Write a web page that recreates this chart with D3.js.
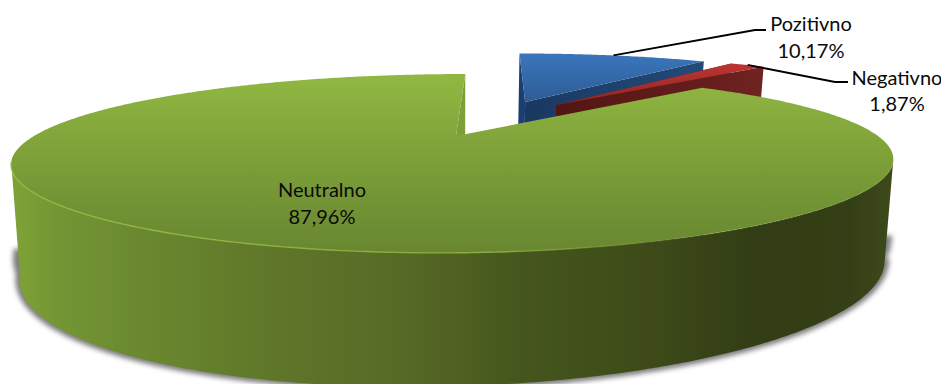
<!DOCTYPE html>
<html>
<head>
<meta charset="utf-8">
<script src="https://cdn.jsdelivr.net/npm/d3@7/dist/d3.min.js"></script>
<style>
html,body{margin:0;padding:0;background:#fff;overflow:hidden}
text{font-family:Lato,"Open Sans",sans-serif;font-size:20px;fill:#0a0a0a}
</style>
</head>
<body>
<svg id="chart" width="941" height="384"></svg>
<script>
// Share of sentiment, in percent
const categories = ["Pozitivno", "Negativno", "Neutralno"];
const shares = [10.17, 1.87, 87.96];
const shareLabels = ["10,17%", "1,87%", "87,96%"];

// Perspective camera for the tilted disc: disc coordinates u (right), v (back)
const cam = {px:456, py:136, R:422, Rk:81, pX:0.29, pY:0.307, skew:12,
             depth:101, pD:0.245, qD:0.058, taper:0.98};
// Explosion offset of each slice, in disc units
const explode = [[0.173,0.482],[0.255,0.434],[0,0]];

const top3 = (u,v)=>{
  const fx = 1/(1+cam.pX*v), fy = 1/(1+cam.pY*v);
  return [cam.px + fx*(cam.R*u + cam.skew*v), cam.py - cam.Rk*v*fy];
};
const base3 = (u,v)=>{
  const [x,y] = top3(u,v);
  return [cam.px + (x-cam.px)*cam.taper, y + cam.depth/(1+cam.pD*v+cam.qD*u)];
};
const onRim = (i,a,f=top3)=>f(explode[i][0]+Math.sin(a), explode[i][1]+Math.cos(a));
const apex = (i,f=top3)=>f(explode[i][0], explode[i][1]);
const sweep = (a0,a1)=>{
  const n = Math.max(2, Math.ceil(Math.abs(a1-a0)/0.01));
  return d3.range(n+1).map(k=>a0+(a1-a0)*k/n);
};

const slices = d3.pie().sort(null).value(d=>d).startAngle(0).endAngle(2*Math.PI)(shares);
const line = d3.line();
const closed = pts=>line(pts)+"Z";

const svg = d3.select("#chart");
const defs = svg.append("defs");

function gradient(id,[x1,y1,x2,y2],stops){
  const g = defs.append("linearGradient").attr("id",id).attr("gradientUnits","userSpaceOnUse")
    .attr("x1",x1).attr("y1",y1).attr("x2",x2).attr("y2",y2);
  stops.forEach(([o,c,a])=>g.append("stop").attr("offset",o).attr("stop-color",c).attr("stop-opacity",a===undefined?1:a));
}
gradient("blueTop",[0,53,0,105],[[0,"#3b76bd"],[1,"#2c5a92"]]);
gradient("blueWall",[520,0,705,0],[[0,"#1a3860"],[1,"#234a79"]]);
gradient("redTop",[0,62,0,106],[[0,"#be3633"],[1,"#8d2523"]]);
gradient("redWall",[556,0,762,0],[[0,"#521614"],[0.6,"#621c1b"],[1,"#6f2322"]]);
gradient("greenTop",[0,74,0,255],[[0,"#91b842"],[0.35,"#82a63b"],[0.7,"#739435"],[1,"#688630"]]);
gradient("greenWall",[12,0,894,0],[
  [0,"#7fa238"],[0.05,"#749634"],[0.16,"#69872f"],[0.3,"#5f7629"],[0.42,"#586c26"],
  [0.5,"#506122"],[0.58,"#45561d"],[0.72,"#3e4b19"],[0.84,"#323d15"],[0.95,"#343f16"],[1,"#3e4a1b"]]);
gradient("greenEdge",[12,0,894,0],[[0,"#93ba44",0.9],[0.55,"#8db33f",0.9],[0.72,"#86a93c",0.25],[1,"#86a93c",0.1]]);

const soft = defs.append("filter").attr("id","shadowBlur")
  .attr("x","-5%").attr("y","-10%").attr("width","110%").attr("height","120%");
soft.append("feGaussianBlur").attr("stdDeviation",2.4);

// Slices in back-to-front order, each with the walls that face the viewer
const frontSweep = sweep(107*Math.PI/180, 253*Math.PI/180);

// Soft shadow on the floor beneath the front of the green slice
const shadow = svg.append("g").attr("opacity",0.85).attr("filter","url(#shadowBlur)");
[[-1,9],[-22,14]].forEach(([dy,w])=>{
  shadow.append("path")
    .attr("d",closed(frontSweep.map(a=>onRim(2,a,base3))))
    .attr("fill","#666").attr("stroke","#666").attr("stroke-width",w)
    .attr("transform",`translate(0,${dy})`);
});

[0,1].forEach(i=>{
  const s = slices[i];
  const names = i===0 ? ["blueTop","blueWall","#1b3f70"] : ["redTop","redWall","#5a1a18"];
  // inner wall along the opening edge
  svg.append("path").attr("fill",names[2]).attr("d",closed([
    apex(i), onRim(i,s.startAngle), onRim(i,s.startAngle,base3), apex(i,base3)]));
  // inner wall along the closing edge
  svg.append("path").attr("fill",`url(#${names[1]})`).attr("d",closed([
    apex(i), onRim(i,s.endAngle), onRim(i,s.endAngle,base3), apex(i,base3)]));
  // top face
  svg.append("path").attr("fill",`url(#${names[0]})`).attr("d",closed([
    apex(i), ...sweep(s.startAngle,s.endAngle).map(a=>onRim(i,a))]));
});

const g = slices[2];
// outer wall of the large slice
svg.append("path").attr("fill","url(#greenWall)").attr("d",closed([
  ...frontSweep.map(a=>onRim(2,a)),
  ...frontSweep.slice().reverse().map(a=>onRim(2,a,base3))]));
// wall seen through the opening at twelve o'clock
svg.append("path").attr("fill","#7d9f3a").attr("d",closed([
  apex(2), onRim(2,g.endAngle), onRim(2,g.endAngle,base3), apex(2,base3)]));
// top face
svg.append("path").attr("fill","url(#greenTop)").attr("d",closed([
  apex(2), ...sweep(g.startAngle,g.endAngle).map(a=>onRim(2,a))]));
// bevel highlight along the front rim
svg.append("path").attr("fill","none").attr("stroke","url(#greenEdge)").attr("stroke-width",1.4)
  .attr("d",line(frontSweep.map(a=>onRim(2,a))));

// Leader lines run from the rim of the small slices to their labels
const leaderEnds = [[[755,30],[766,30]],[[835,82],[848,82]]];
[0,1].forEach(i=>{
  const mid = (slices[i].startAngle+slices[i].endAngle)/2;
  svg.append("path").attr("fill","none").attr("stroke","#000").attr("stroke-width",1.8)
    .attr("d",line([onRim(i,mid),...leaderEnds[i]]));
});

// Category and share labels
const labelPos = [[811,31,58],[897,85,111],[322,197,224]];
categories.forEach((c,i)=>{
  const [x,y1,y2] = labelPos[i];
  const t = svg.append("text").attr("text-anchor","middle");
  t.append("tspan").attr("x",x).attr("y",y1).text(c);
  t.append("tspan").attr("x",x).attr("y",y2).text(shareLabels[i]);
});
</script>
</body>
</html>
